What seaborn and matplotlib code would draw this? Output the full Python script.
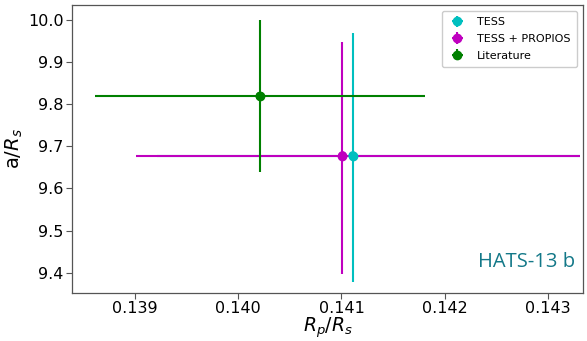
import numpy as np
import pandas as pd
import seaborn as sns
import matplotlib
matplotlib.use("Agg")
import matplotlib.pyplot as plt

# values
labels = ["TESS", "TESS + PROPIOS", "Literature"]
rp_rs = [0.14111, 0.14101, 0.14021]
rp_err_lo = [0.0019, 0.0020, 0.0016]
rp_err_hi = [0.0022, 0.0023, 0.0016]
a_rs = [9.678, 9.678, 9.819]
a_err_lo = [0.300, 0.280, 0.180]
a_err_hi = [0.290, 0.270, 0.180]
colors = ["c", "m", "g"]

df = pd.DataFrame({"label": labels, "rp": rp_rs, "a": a_rs})

sns.set_style("white")
plt.rcParams["font.family"] = ["DejaVu Sans"]
plt.rcParams["text.color"] = "black"
plt.rcParams["axes.labelcolor"] = "black"

fig = plt.figure(figsize=(5.87, 3.41), dpi=100)
ax = fig.add_axes([0.1227, 0.142, 0.8705, 0.8433])

for i, lab in enumerate(labels):
    ax.errorbar(rp_rs[i], a_rs[i],
                xerr=[[rp_err_lo[i]], [rp_err_hi[i]]],
                yerr=[[a_err_lo[i]], [a_err_hi[i]]],
                fmt="o", color=colors[i], ms=6, elinewidth=1.5, label=lab)

# centre points on top
sns.scatterplot(data=df, x="rp", y="a", hue="label", palette=colors,
                s=40, edgecolor="none", legend=False, ax=ax, zorder=5)

ax.set_xlim(0.13839, 0.14334)
ax.set_ylim(9.353, 10.035)
ax.set_xticks([0.139, 0.140, 0.141, 0.142, 0.143])
ax.set_xticklabels(["0.139", "0.140", "0.141", "0.142", "0.143"])
ax.set_yticks([9.4, 9.5, 9.6, 9.7, 9.8, 9.9, 10.0])
ax.set_yticklabels(["9.4", "9.5", "9.6", "9.7", "9.8", "9.9", "10.0"])
ax.tick_params(labelsize=11.5, length=4, direction="out", pad=2,
               bottom=True, left=True)
ax.tick_params(colors="#555555", labelcolor="black")
for s in ax.spines.values():
    s.set_color("#555555")
    s.set_linewidth(0.9)

ax.set_xlabel(r"$R_p/R_s$", fontsize=13.5, labelpad=0)
ax.set_ylabel(r"a/$R_s$", fontsize=14, labelpad=2)

ax.legend(loc="upper right", fontsize=8, frameon=True, framealpha=1,
          edgecolor="#cccccc", borderpad=0.6, handletextpad=1.0,
          handlelength=1.6, labelspacing=0.6)

ax.text(0.985, 0.07, "HATS-13 b", transform=ax.transAxes, ha="right",
        va="bottom", fontsize=14.5, color="#137888", family="Open Sans")

fig.savefig("out.png", dpi=100)
